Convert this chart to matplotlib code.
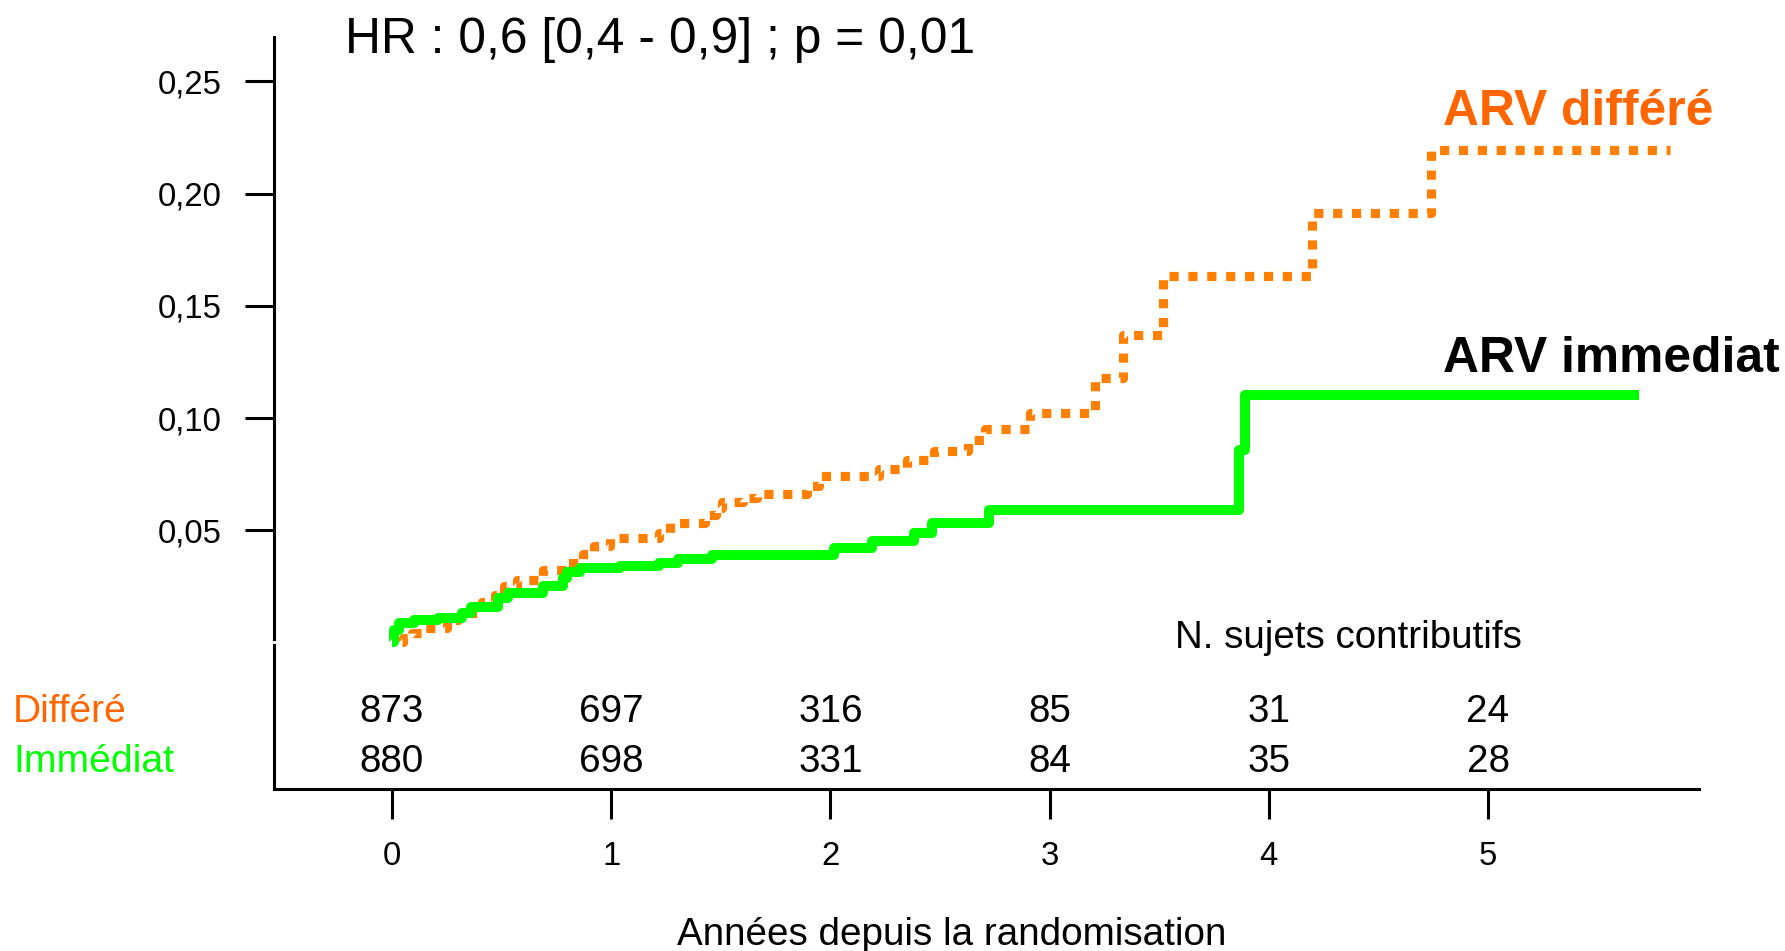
import matplotlib
matplotlib.use("Agg")
import matplotlib.pyplot as plt

plt.rcParams['font.family'] = ['Liberation Sans', 'DejaVu Sans']

# ---- data ----
# ARV immédiat (green, solid): step start times (years) and cumulative incidence
imm_t = [0.0, 0.01, 0.03, 0.10, 0.21, 0.32, 0.36, 0.485, 0.53, 0.69, 0.78, 0.80,
         0.86, 1.04, 1.22, 1.307, 1.46, 2.015, 2.19, 2.38, 2.464, 2.722, 3.864,
         3.893, 5.69]
imm_y = [0.0, 0.0056, 0.0086, 0.0098, 0.0108, 0.0131, 0.0157, 0.0198, 0.022,
         0.025, 0.0287, 0.0312, 0.0331, 0.0339, 0.0356, 0.0373, 0.0388, 0.0421,
         0.0450, 0.0487, 0.0532, 0.0591, 0.0859, 0.1104, 0.1104]

# ARV différé (orange, dotted)
dif_t = [0.046, 0.05, 0.09, 0.15, 0.25, 0.30, 0.41, 0.47, 0.51, 0.57, 0.69, 0.80,
         0.87, 0.92, 0.996, 1.22, 1.27, 1.43, 1.48, 1.506, 1.603, 1.666, 1.894,
         1.95, 2.22, 2.35, 2.471, 2.63, 2.707, 2.91, 3.207, 3.337, 3.516, 4.199,
         4.74, 5.83]
dif_y = [0.0, 0.002, 0.0041, 0.0064, 0.010, 0.013, 0.018, 0.021, 0.025, 0.028,
         0.0324, 0.0356, 0.0395, 0.0428, 0.0465, 0.0487, 0.0532, 0.0569, 0.060,
         0.0624, 0.0643, 0.0663, 0.0695, 0.074, 0.0773, 0.0814, 0.0851, 0.0904,
         0.0951, 0.1023, 0.118, 0.1368, 0.1632, 0.1915, 0.2194, 0.2194]

risk_times = [0, 1, 2, 3, 4, 5]
risk_differe = [873, 697, 316, 85, 31, 24]
risk_immediat = [880, 698, 331, 84, 35, 28]

yticks = [0.05, 0.10, 0.15, 0.20, 0.25]
ytick_labels = ['0,05', '0,10', '0,15', '0,20', '0,25']
xticks = [0, 1, 2, 3, 4, 5]
xtick_labels = ['0', '1', '2', '3', '4', '5']

ORANGE_LINE = '#FF7F00'
ORANGE_TEXT = '#FF6600'
GREEN = '#00FF00'

W, H = 1785, 951
fig = plt.figure(figsize=(W / 100, H / 100), dpi=100)
ax = fig.add_axes([274 / W, 1 - 789 / H, (1698.5 - 274) / W, (789 - 37) / H])
ax.set_xlim(-0.538, 5.960)
ax.set_ylim(-0.0653, 0.2698)

ax.spines['top'].set_visible(False)
ax.spines['right'].set_visible(False)
for s in ('left', 'bottom'):
    ax.spines[s].set_linewidth(2.2)

ax.set_yticks(yticks)
ax.set_yticklabels(ytick_labels, fontsize=23.7)
ax.set_xticks(xticks)
ax.set_xticklabels(xtick_labels, fontsize=23.7)
ax.tick_params(axis='y', direction='out', length=21, width=2.2, pad=17)
ax.tick_params(axis='x', direction='out', length=21.6, width=2.2, pad=16)

# curves
ax.plot(dif_t, dif_y, drawstyle='steps-post', color=ORANGE_LINE, lw=6.6,
        linestyle=(0, (1, 1.06)), dash_capstyle='butt', zorder=3)
ax.plot(imm_t, imm_y, drawstyle='steps-post', color=GREEN, lw=7.2,
        solid_joinstyle='round', solid_capstyle='butt', zorder=4)

# small white break on the y axis at y = 0
ax.plot([-0.56, -0.50], [0, 0], color='white', lw=2.0, clip_on=False, zorder=10)

# numbers at risk
for t, nd, ni in zip(risk_times, risk_differe, risk_immediat):
    ax.text(t, -0.0353, str(nd), ha='center', va='baseline', fontsize=27.8)
    ax.text(t, -0.0576, str(ni), ha='center', va='baseline', fontsize=27.8)

def ftext(x, y, s, **kw):
    fig.text(x / W, 1 - y / H, s, va='baseline', **kw)

ftext(345, 53.3, 'HR : 0,6 [0,4 - 0,9] ; p = 0,01', fontsize=35.8, ha='left')
ftext(1442.5, 125, 'ARV différé', fontsize=35.8, fontweight='bold', color=ORANGE_TEXT, ha='left')
ftext(1442.5, 372.3, 'ARV immediat', fontsize=35.8, fontweight='bold', color='black', ha='left')
ftext(1174.8, 648.3, 'N. sujets contributifs', fontsize=27.7, ha='left')
ftext(13, 721.7, 'Différé', fontsize=28, color=ORANGE_TEXT, ha='left')
ftext(13, 771.7, 'Immédiat', fontsize=28.2, color=GREEN, ha='left')
ftext(951.7, 945, 'Années depuis la randomisation', fontsize=27.8, ha='center')

fig.savefig('out.png', dpi=100, facecolor='white')
